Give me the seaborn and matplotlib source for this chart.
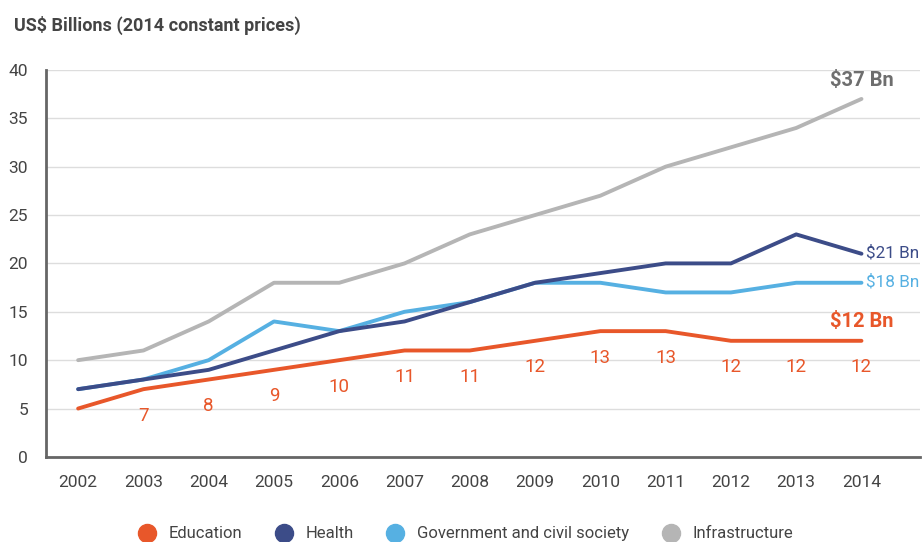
import matplotlib
matplotlib.use('Agg')
import matplotlib.pyplot as plt
import seaborn as sns
import pandas as pd
from matplotlib.lines import Line2D

years = list(range(2002, 2015))
education = [5, 7, 8, 9, 10, 11, 11, 12, 13, 13, 12, 12, 12]
health = [7, 8, 9, 11, 13, 14, 16, 18, 19, 20, 20, 23, 21]
government = [7, 8, 10, 14, 13, 15, 16, 18, 18, 17, 17, 18, 18]
infrastructure = [10, 11, 14, 18, 18, 20, 23, 25, 27, 30, 32, 34, 37]
series_names = ['Education', 'Health', 'Government and civil society', 'Infrastructure']
colors = ['#E8572A', '#3C4C88', '#56B0E2', '#B5B5B5']

df = pd.DataFrame({'year': years, 'Education': education, 'Health': health,
                   'Government and civil society': government, 'Infrastructure': infrastructure})
long = df.melt(id_vars='year', var_name='sector', value_name='value')

sns.set_style('white')
plt.rcParams['font.family'] = ['Roboto', 'DejaVu Sans']
text_col = '#444444'

fig = plt.figure(figsize=(9.23, 5.42), dpi=100)
ax = fig.add_axes([0.05, 0.157, 0.947, 0.714])

# draw back to front so education sits on top
order = ['Infrastructure', 'Government and civil society', 'Health', 'Education']
palette = dict(zip(series_names, colors))
for name in order:
    sub = long[long['sector'] == name]
    sns.lineplot(data=sub, x='year', y='value', color=palette[name], linewidth=2.8,
                 ax=ax, legend=False)

ax.set_xlim(2001.51, 2014.9)
ax.set_ylim(0, 40)
ax.set_yticks(range(0, 41, 5))
ax.set_xticks(years)
ax.set_xlabel('')
ax.set_ylabel('')
ax.yaxis.grid(True, color='#DDDDDD', linewidth=1)
ax.set_axisbelow(True)
for s in ['top', 'right']:
    ax.spines[s].set_visible(False)
for s in ['left', 'bottom']:
    ax.spines[s].set_color('#666666')
    ax.spines[s].set_linewidth(2)
ax.tick_params(axis='y', length=0, labelsize=12.5, labelcolor=text_col, pad=13)
ax.tick_params(axis='x', length=9, width=1, color='#BBBBBB', labelsize=12.5,
               labelcolor=text_col, pad=4, direction='out')

# education value labels
for x, v in zip(years[1:], education[1:]):
    ax.annotate(str(v), (x, v), xytext=(0, -19), textcoords='offset points',
                ha='center', va='center', fontsize=13.5, color=colors[0])

# end labels
ax.annotate('$37 Bn', (years[-1], infrastructure[-1]), xytext=(0, 13), textcoords='offset points',
            ha='center', va='center', fontsize=14.5, fontweight='bold', color='#6E6E6E')
ax.annotate('$21 Bn', (years[-1], health[-1]), xytext=(3, 1), textcoords='offset points',
            ha='left', va='center', fontsize=12.3, color=colors[1])
ax.annotate('$18 Bn', (years[-1], government[-1]), xytext=(3, 1), textcoords='offset points',
            ha='left', va='center', fontsize=12.3, color=colors[2])
ax.annotate('$12 Bn', (years[-1], education[-1]), xytext=(0, 14), textcoords='offset points',
            ha='center', va='center', fontsize=14.5, fontweight='bold', color=colors[0])

fig.text(0.015, 0.953, 'US$ Billions (2014 constant prices)', fontsize=13,
         fontweight='bold', color=text_col, ha='left', va='center')

handles = [Line2D([], [], marker='o', linestyle='', markersize=13, color=c) for c in colors]
fig.legend(handles, series_names, loc='center', bbox_to_anchor=(0.5, 0.015), ncol=4,
           frameon=False, fontsize=12, labelcolor=text_col, handletextpad=0.3,
           columnspacing=1.5)

fig.savefig('out.png', dpi=100)
